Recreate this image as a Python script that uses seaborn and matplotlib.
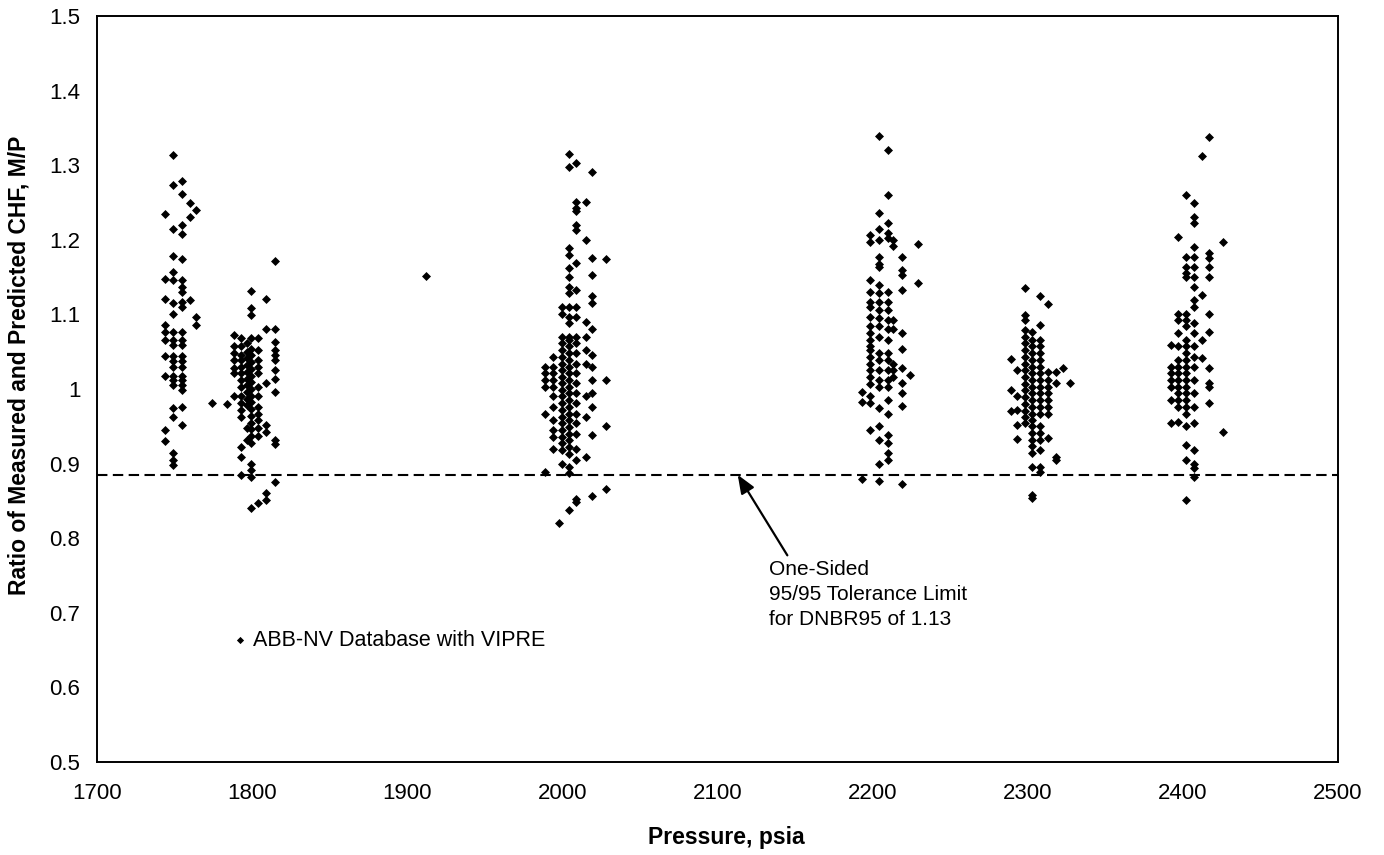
import numpy as np
import pandas as pd
import matplotlib
matplotlib.use("Agg")
import matplotlib.pyplot as plt
from matplotlib.ticker import FuncFormatter, MultipleLocator
import seaborn as sns

# ---------------------------------------------------------------
# DATA  (pressure, psia -> list of measured/predicted CHF ratios)
# ---------------------------------------------------------------
cluster_1750 = {
    1744: [1.235, 1.147, 1.121, 1.086, 1.077, 1.066, 1.044, 1.018, 0.945, 0.930],
    1749: [1.313, 1.273, 1.215, 1.178, 1.157, 1.146, 1.115, 1.101, 1.077, 1.066,
           1.059, 1.044, 1.037, 1.030, 1.018, 1.012, 1.005, 0.974, 0.963, 0.914,
           0.905, 0.898],
    1755: [1.279, 1.262, 1.220, 1.208, 1.174, 1.146, 1.137, 1.130, 1.117, 1.110,
           1.077, 1.066, 1.059, 1.044, 1.037, 1.030, 1.018, 1.012, 1.005, 0.999,
           0.976, 0.952],
    1760: [1.249, 1.231, 1.119],
    1764: [1.240, 1.097, 1.086],
}

cluster_1800 = {
    1774: [0.981],
    1784: [0.980],
    1788: [1.072, 1.057, 1.048, 1.039, 1.028, 1.021, 0.990],
    1793: [1.068, 1.057, 1.046, 1.039, 1.030, 1.021, 1.012, 1.003, 0.990, 0.981,
           0.972, 0.963, 0.922, 0.909, 0.885],
    1797: [1.061, 1.050, 1.041, 1.032, 1.023, 1.014, 1.005, 0.996, 0.987, 0.978,
           0.948, 0.932],
    1799: [1.131, 1.108, 1.099, 1.068, 1.054, 1.045, 1.036, 1.027, 1.018, 1.009,
           1.000, 0.991, 0.982, 0.973, 0.964, 0.955, 0.946, 0.937, 0.928, 0.900,
           0.891, 0.882, 0.841],
    1804: [1.068, 1.052, 1.039, 1.030, 1.021, 1.003, 0.990, 0.976, 0.967, 0.958,
           0.948, 0.937, 0.847],
    1809: [1.121, 1.080, 1.008, 0.952, 0.943, 0.860, 0.851],
    1815: [1.172, 1.080, 1.063, 1.052, 1.045, 1.039, 1.025, 1.014, 0.996, 0.932,
           0.926, 0.875],
}

single_1912 = {1912: [1.151]}

cluster_2000 = {
    1989: [1.030, 1.021, 1.012, 1.003, 0.967, 0.889],
    1994: [1.043, 1.030, 1.021, 1.012, 1.003, 0.990, 0.976, 0.958, 0.945, 0.936,
           0.920],
    1998: [0.820],
    2000: [1.110, 1.101, 1.070, 1.061, 1.052, 1.043, 1.034, 1.025, 1.016, 1.008,
           0.999, 0.990, 0.981, 0.972, 0.963, 0.954, 0.945, 0.936, 0.927, 0.918,
           0.900],
    2004: [1.315, 1.297, 1.189, 1.180, 1.162, 1.150, 1.137, 1.128, 1.110, 1.097,
           1.088, 1.070, 1.066, 1.057, 1.048, 1.039, 1.030, 1.021, 1.012, 1.003,
           0.994, 0.985, 0.976, 0.967, 0.958, 0.949, 0.940, 0.931, 0.922, 0.913,
           0.896, 0.887, 0.838],
    2009: [1.303, 1.251, 1.242, 1.238, 1.220, 1.213, 1.169, 1.133, 1.110, 1.097,
           1.070, 1.061, 1.048, 1.034, 1.021, 1.008, 0.994, 0.981, 0.967, 0.954,
           0.940, 0.920, 0.905, 0.852, 0.848],
    2015: [1.251, 1.200, 1.090, 1.070, 1.052, 1.034, 0.990, 0.963, 0.909],
    2019: [1.291, 1.176, 1.153, 1.124, 1.115, 1.081, 1.045, 1.030, 1.012, 0.994,
           0.976, 0.938, 0.856],
    2028: [1.174, 1.012, 0.950, 0.866],
}

cluster_2200 = {
    2193: [0.996, 0.983, 0.879],
    2198: [1.206, 1.197, 1.146, 1.130, 1.117, 1.110, 1.097, 1.084, 1.075, 1.066,
           1.057, 1.052, 1.043, 1.034, 1.025, 1.016, 1.007, 0.990, 0.981, 0.945],
    2204: [1.339, 1.236, 1.214, 1.200, 1.177, 1.168, 1.164, 1.139, 1.128, 1.117,
           1.106, 1.095, 1.084, 1.070, 1.048, 1.039, 1.025, 1.012, 1.003, 0.974,
           0.950, 0.932, 0.900, 0.876],
    2210: [1.320, 1.260, 1.222, 1.209, 1.202, 1.130, 1.117, 1.106, 1.092, 1.081,
           1.066, 1.048, 1.039, 1.025, 1.012, 1.003, 0.985, 0.967, 0.938, 0.927,
           0.914, 0.905],
    2213: [1.200, 1.191, 1.092, 1.081, 1.034, 1.025, 1.016],
    2219: [1.177, 1.159, 1.153, 1.133, 1.075, 1.054, 1.028, 1.008, 0.995, 0.977,
           0.872],
    2224: [1.019],
    2229: [1.194, 1.142],
}

cluster_2300 = {
    2289: [1.040, 0.999, 0.970],
    2293: [1.025, 0.990, 0.972, 0.952, 0.933],
    2298: [1.136, 1.099, 1.093, 1.079, 1.070, 1.061, 1.052, 1.043, 1.034, 1.025,
           1.016, 1.007, 0.998, 0.989, 0.980, 0.971, 0.962, 0.954],
    2303: [1.077, 1.066, 1.057, 1.048, 1.039, 1.030, 1.021, 1.012, 1.003, 0.994,
           0.985, 0.976, 0.967, 0.958, 0.950, 0.941, 0.932, 0.923, 0.914, 0.896,
           0.858, 0.854],
    2308: [1.125, 1.086, 1.066, 1.057, 1.048, 1.039, 1.030, 1.021, 1.012, 1.003,
           0.994, 0.985, 0.976, 0.967, 0.950, 0.941, 0.932, 0.918, 0.896, 0.889],
    2313: [1.114, 1.023, 1.012, 1.003, 0.994, 0.985, 0.976, 0.967, 0.934],
    2318: [1.023, 1.008, 0.909, 0.905],
    2323: [1.028],
    2327: [1.008],
}

cluster_2400 = {
    2392: [1.059, 1.030, 1.021, 1.012, 1.003, 0.985, 0.954],
    2397: [1.204, 1.101, 1.092, 1.075, 1.057, 1.039, 1.030, 1.021, 1.012, 1.003,
           0.994, 0.985, 0.976, 0.956],
    2402: [1.260, 1.177, 1.164, 1.155, 1.150, 1.101, 1.092, 1.084, 1.066, 1.057,
           1.048, 1.039, 1.030, 1.021, 1.012, 1.003, 0.994, 0.985, 0.976, 0.967,
           0.950, 0.925, 0.905, 0.851],
    2407: [1.249, 1.231, 1.222, 1.190, 1.177, 1.164, 1.150, 1.137, 1.119, 1.110,
           1.088, 1.075, 1.057, 1.043, 1.030, 1.012, 0.994, 0.976, 0.954, 0.918,
           0.900, 0.894, 0.882],
    2412: [1.312, 1.126, 1.066, 1.041],
    2417: [1.338, 1.182, 1.176, 1.164, 1.150, 1.101, 1.077, 1.028, 1.008, 1.003,
           0.981],
    2426: [1.197, 0.943],
}

tolerance_limit = 0.885
x_ticks = [1700, 1800, 1900, 2000, 2100, 2200, 2300, 2400, 2500]
series_label = "ABB-NV Database with VIPRE"
note_text = "One-Sided\n95/95 Tolerance Limit\nfor DNBR95 of 1.13"

# ---------------------------------------------------------------
# BUILD TABLE
# ---------------------------------------------------------------
rows = []
for cluster in [cluster_1750, cluster_1800, single_1912, cluster_2000,
                cluster_2200, cluster_2300, cluster_2400]:
    for p, ratios in cluster.items():
        for r in ratios:
            rows.append((p, r))
df = pd.DataFrame(rows, columns=["pressure", "ratio"])

# ---------------------------------------------------------------
# PLOT
# ---------------------------------------------------------------
sns.set_theme(style="white")
plt.rcParams['font.family'] = ['Liberation Sans', 'DejaVu Sans']
plt.rcParams['text.color'] = 'black'
plt.rcParams['axes.labelcolor'] = 'black'

fig = plt.figure(figsize=(13.84, 8.55), dpi=100)
ax = fig.add_axes([0.0701, 0.1088, 0.8967, 0.8725])

sns.scatterplot(data=df, x="pressure", y="ratio", ax=ax, marker="D",
                s=21, color="black", linewidth=0, label=series_label)

ax.axhline(tolerance_limit, color="black", lw=1.5, ls=(0, (5, 2.6)), zorder=1)

ax.annotate("", xy=(2113, tolerance_limit), xytext=(2145, 0.777),
            arrowprops=dict(arrowstyle="-|>,head_length=0.75,head_width=0.3",
                            color="black", lw=1.6, mutation_scale=15,
                            shrinkA=0, shrinkB=0))
ax.text(2133, 0.771, note_text, ha="left", va="top", fontsize=15,
        linespacing=1.42, color="black")

ax.set_xlim(1700, 2500)
ax.set_ylim(0.5, 1.5)
ax.set_xticks(x_ticks)
ax.yaxis.set_major_locator(MultipleLocator(0.1))
ax.yaxis.set_major_formatter(FuncFormatter(lambda v, _: f"{v:g}"))

ax.tick_params(axis="both", which="major", direction="out", length=3,
               width=1, color="black", labelsize=16, labelcolor="black")
ax.tick_params(axis="x", pad=12)
ax.tick_params(axis="y", pad=9)

for spine in ax.spines.values():
    spine.set_color("black")
    spine.set_linewidth(1.4)

ax.set_xlabel("Pressure, psia", fontsize=16.5, fontweight="bold", color="black")
ax.set_ylabel("Ratio of Measured and Predicted CHF, M/P", fontsize=16.5,
              fontweight="bold", color="black")
ax.xaxis.set_label_coords(0.507, -0.086)
ax.yaxis.set_label_coords(-0.054, 0.532)

leg = ax.legend(loc="center left", bbox_to_anchor=(0.110, 0.1635), frameon=False,
                fontsize=15.5, handlelength=0.6, handletextpad=0.3,
                borderpad=0, borderaxespad=0, markerscale=0.8)
for t in leg.get_texts():
    t.set_color("black")

fig.savefig("out.png", dpi=100)
